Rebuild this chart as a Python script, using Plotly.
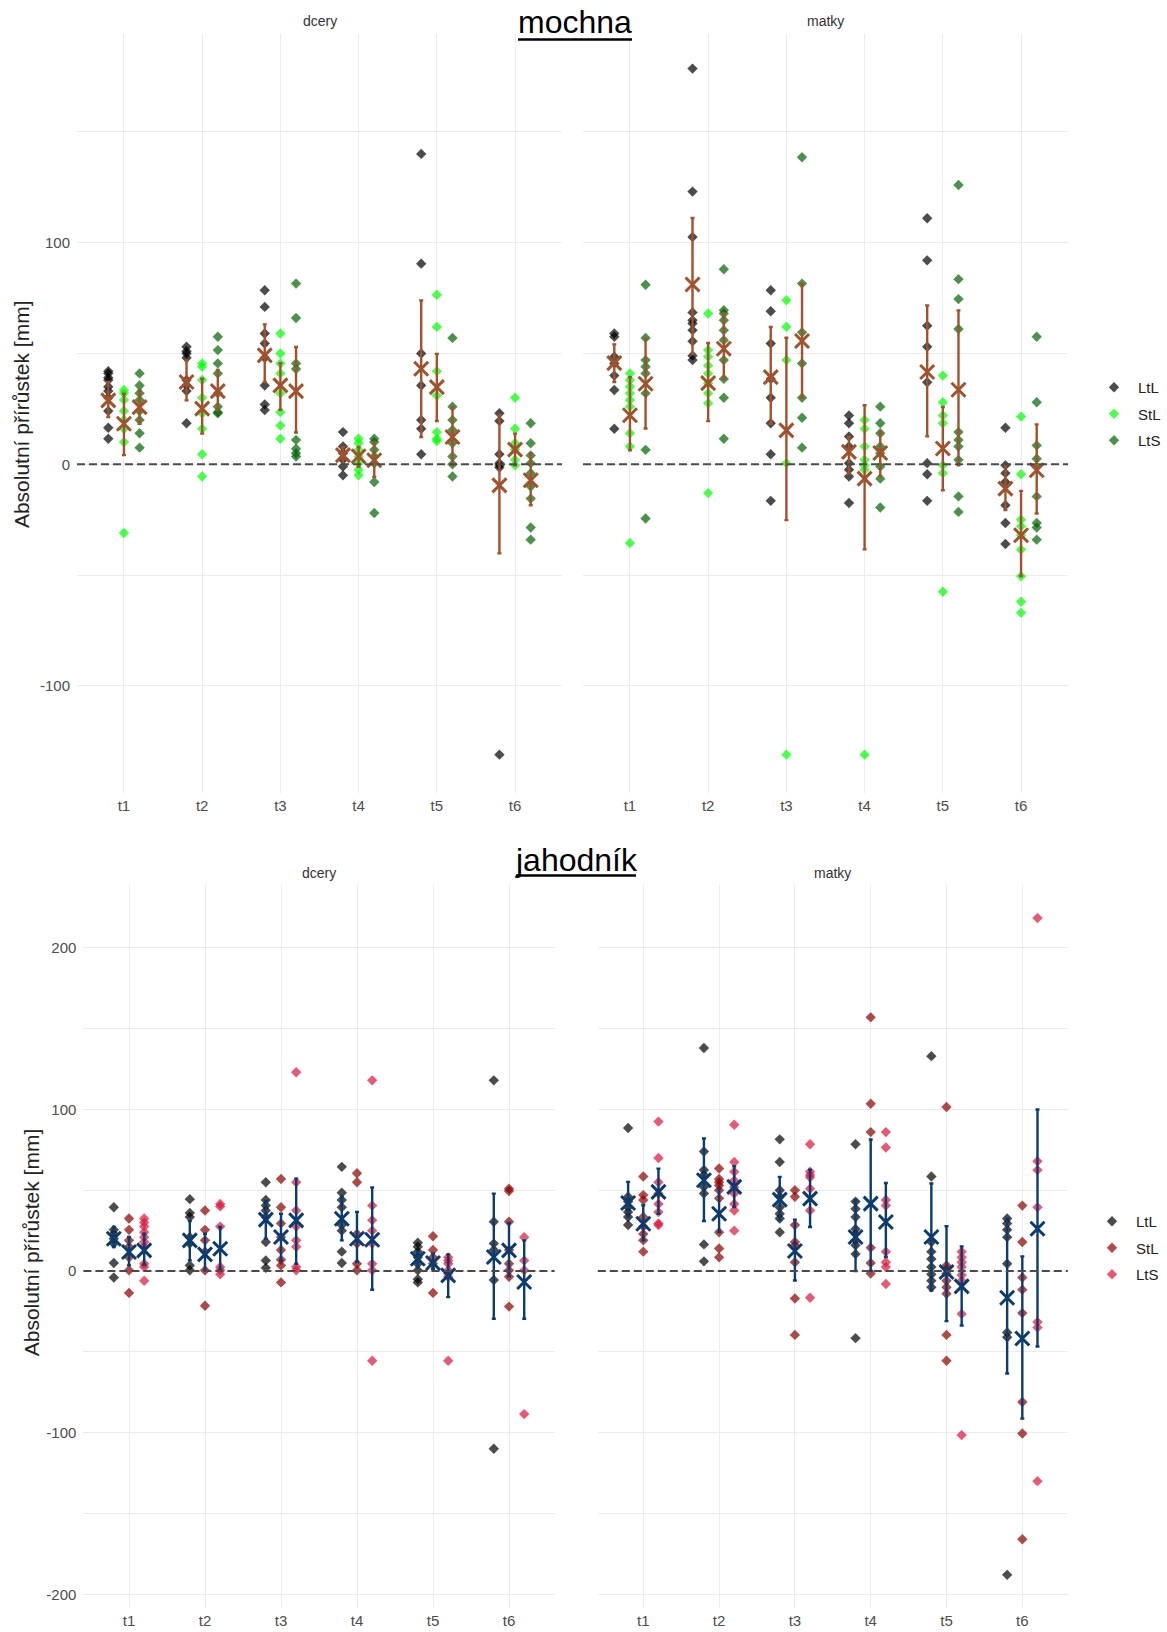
import plotly.graph_objects as go

W, H = 1167, 1632
FONT = "Liberation Sans, Arial, sans-serif"

TIMES = ["t1", "t2", "t3", "t4", "t5", "t6"]
GROUPS = ["LtL", "StL", "LtS"]

# ---------------- mochna : dcery ----------------
MD_PTS = {
    "LtL": [[42, 41, 39, 38, 35, 33, 30, 24, 16.5, 11.5], [53, 51, 50, 48, 38, 35.5, 33, 18.5],
            [78.5, 71, 59, 54.5, 48, 35.5, 27, 24.5], [14.5, 8, 5, 2, -1, -5],
            [140, 90.5, 50, 35.5, 20, 16, 4.5], [23, 19.5, 4.5, 0.5, -0.5, -1.5, -131]],
    "StL": [[33.5, 32, 29, 24, 20, 16, 10, -31], [45.5, 44, 38, 30, 23, 16, 4.5, -5.5],
            [59, 50, 45.5, 41, 32, 23.5, 17.5, 11.5], [11.5, 9.5, 6.5, 3.5, 0.5, -2.5, -5],
            [76.5, 62, 42, 31, 14.5, 11.5, 10.5], [30, 16, 9.5, 6.5, 2, -0.5]],
    "LtS": [[41, 35.5, 32, 29, 24, 20, 14, 7.5], [57.5, 51.5, 45.5, 41, 32, 26, 23.5, 23],
            [81.5, 66, 45.5, 43, 11, 7, 5, 3.5], [11.5, 10, 6.5, 3.5, 0.5, -8, -22],
            [57, 26, 20, 15.5, 9.5, 3.5, 0, -5.5], [18.5, 9.5, 4, 0.5, -4, -10, -15.5, -28.5, -34]],
}
MD_MEAN = {"LtL": [28.8, 37.1, 49.1, 4.1, 43.1, -9.5], "StL": [18.3, 25.1, 35.6, 3.6, 34.8, 6.6],
           "LtS": [25.8, 33.0, 33.0, 1.8, 12.3, -7.2]}
MD_LO = {"LtL": [21.3, 28.8, 37.1, 0.3, 12.3, -40.2], "StL": [4.1, 13.8, 24.6, -1.2, 19.5, -0.5],
         "LtS": [18.3, 24.3, 14.3, -5.7, -0.5, -18.5]}
MD_HI = {"LtL": [37.1, 46.8, 63.1, 7.8, 73.9, 22.1], "StL": [31.8, 38.6, 45.6, 7.8, 49.8, 13.8],
         "LtS": [33.3, 42.6, 52.9, 10.1, 25.8, 4.8]}

# ---------------- mochna : matky ----------------
MM_PTS = {
    "LtL": [[59, 57.5, 48.5, 45.5, 40, 33.5, 16], [178.5, 123, 102.5, 68.5, 65, 63.5, 60.5, 55.5, 49, 47],
            [78.5, 69, 54.5, 38.5, 30, 18.5, 4.5, -16.5], [22, 18.5, 12.5, 8, 0.5, -2.5, -5.5, -17.5],
            [111, 92, 62.5, 53, 37, 0.5, -4.5, -16.5], [16.5, -0.5, -4, -8, -18.5, -26.5, -36]],
    "StL": [[41, 38, 35, 32, 29, 26, 14, 8, -35.5], [68, 51.5, 48.5, 44.5, 41, 36.5, 32, 27.5, -13],
            [74, 62, 47, 0.5, -131], [20, 16, 8, 2, -0.5, -2.5, -131],
            [40, 28, 22, 18.5, -0.5, -4, -57.5], [21.5, -4.5, -25, -28, -32, -38.5, -50.5, -62, -67]],
    "LtS": [[81, 57, 47, 44, 41, 32, 6.5, -24.5], [88, 69.5, 68, 65, 60.5, 56, 47, 38.5, 30, 11.5],
            [138.5, 81.5, 59.5, 45.5, 30, 21, 7.5], [26, 18.5, 14, 8, 5, -1, -6.5, -19.5],
            [126, 83.5, 74.5, 61, 14.5, 11, 8, 2, -14.5, -21.5], [57.5, 28, 8.5, 2.5, -1, -14.5, -26.5, -28.5, -34]],
}
MM_MEAN = {"LtL": [45.6, 81.1, 39.3, 5.6, 41.6, -11.0], "StL": [22.1, 36.6, 15.3, -6.5, 7.1, -32.0],
           "LtS": [36.3, 52.1, 55.6, 5.1, 33.6, -2.7]}
MM_LO = {"LtL": [37.1, 49.8, 18.3, -4.2, 12.6, -20.7], "StL": [6.3, 19.5, -25.2, -38.4, -11.7, -50.4],
         "LtS": [16.1, 38.6, 30.0, -5.4, -0.5, -22.2]}
MM_HI = {"LtL": [54.1, 111.1, 61.9, 12.3, 71.6, -0.5], "StL": [39.3, 54.7, 57.1, 26.6, 25.8, -12.0],
         "LtS": [56.6, 68.2, 81.4, 14.6, 69.4, 18.0]}

# ---------------- jahodník : dcery ----------------
JD_PTS = {
    "LtL": [[39.5, 25.5, 23, 20, 17, 5, -4], [44.5, 36, 33.5, 21, 17, 3.5, 0.5],
            [55, 44, 40.5, 37.5, 33.5, 18, 6.5, 2], [64.5, 48.5, 44, 39.5, 28.5, 25, 12, 5],
            [17.5, 15, 12, 8.5, 4.5, 0.5, -5, -7], [118, 30.5, 17, 13, -5.5, -110]],
    "StL": [[32.5, 25.5, 19, 15, 8.5, 0.5, -13.5], [37.5, 25.5, 19, 12, 0.5, -21.5],
            [57, 39.5, 29.5, 21, 13, 7, 3.5, -7], [60.5, 55, 23, 17, 4.5, 0.5],
            [21.5, 13, 8.5, 4.5, -13.5], [51, 49.5, 30.5, 13, 4.5, 0.5, -3.5, -22]],
    "LtS": [[32.5, 30, 27.5, 24, 21, 18, 15, 4.5, 2.5, -6], [41.5, 40, 27.5, 2.5, 0.5, -2],
            [123, 55, 37.5, 27.5, 19, 15, 2.5, 0.5], [118, 40.5, 31.5, 25, 17, 4.5, 0.5, -55.5],
            [8.5, 6.5, 4.5, 0.5, -1.5, -3.5, -55.5], [21, 6.5, 0.5, -88.5]],
}
JD_MEAN = {"LtL": [20.0, 19.0, 31.8, 32.4, 7.6, 8.7], "StL": [11.8, 10.3, 21.1, 20.0, 5.0, 12.8],
           "LtS": [12.8, 13.8, 31.4, 19.4, -2.7, -6.8]}
JD_LO = {"LtL": [14.9, 6.6, 20.0, 19.0, 2.5, -29.5], "StL": [3.5, 0.4, 6.6, 5.6, 1.4, -3.3],
         "LtS": [4.1, 0.4, 4.5, -11.6, -16.1, -29.5]}
JD_HI = {"LtL": [27.3, 31.0, 43.4, 45.5, 11.8, 47.9], "StL": [21.1, 23.1, 35.5, 36.6, 10.7, 29.8],
         "LtS": [23.1, 27.3, 57.2, 51.7, 10.3, 19.0]}

# ---------------- jahodník : matky ----------------
JM_PTS = {
    "LtL": [[88.5, 46, 43, 39.5, 36.5, 33.5, 28.5], [138, 74, 62.5, 59.5, 52, 48, 16.5, 6],
            [81.5, 67.5, 50, 46, 39.5, 35.5, 32.5, 24], [78.5, 43, 38.5, 33.5, 26, 23, 19, 16, 10.5, -41.5],
            [133, 58.5, 18, 12, 7.5, 2.5, -2, -6, -10], [32.5, 29.5, 25.5, 21, 4.5, -38, -41, -188]],
    "StL": [[58.5, 47, 44, 33.5, 27.5, 23, 19, 12], [63.5, 57, 55, 53, 50, 45, 24, 14, 8.5],
            [50, 46, 28.5, 18, 16, 5.5, -17, -39.5], [157, 103.5, 86, 14.5, 5, -1.5],
            [101.5, 3.5, 1.5, -1.5, -6, -10, -14, -39.5, -55.5], [40.5, 18, -4, -11.5, -26, -81, -100.5, -166]],
    "LtS": [[92.5, 70, 55, 48, 41.5, 36.5, 29.5, 28.5], [90.5, 67.5, 61.5, 56, 52, 48, 41.5, 37.5, 25],
            [78.5, 61.5, 59.5, 58, 51, 37.5, -16.5], [86, 76.5, 44, 40.5, 12, 5.5, 2.5, -8],
            [12, 8.5, 5.5, 2.5, -2.5, -6, -26.5, -101.5], [218.5, 68, 62.5, 39.5, -31.5, -35, -130]],
}
JM_MEAN = {"LtL": [42.1, 56.2, 44.2, 21.1, 21.1, -16.5], "StL": [29.3, 35.5, 12.4, 41.7, -0.6, -41.7],
           "LtS": [49.0, 52.1, 44.8, 30.4, -9.5, 26.2]}
JM_LO = {"LtL": [33.5, 31.0, 31.4, 0.0, -12.0, -63.4], "StL": [19.0, 24.2, -5.8, 0.0, -31.0, -91.3],
         "LtS": [35.5, 39.7, 27.3, 8.7, -33.7, -46.7]}
JM_HI = {"LtL": [55.2, 82.0, 58.3, 43.8, 54.2, 32.4], "StL": [40.7, 51.0, 31.8, 81.4, 27.7, 9.1],
         "LtS": [63.4, 64.9, 62.8, 54.5, 15.3, 100.0]}

# ---------------- styles ----------------
TOP_COLORS = {"LtL": "#000000", "StL": "#00FF00", "LtS": "#006400"}
BOT_COLORS = {"LtL": "#000000", "StL": "#8B0000", "LtS": "#DC143C"}
TOP_SUM = "#A0522D"
BOT_SUM = "#0B3B6F"
DODGE = {"LtL": -0.2, "StL": 0.0, "LtS": 0.2}


def px_x(p):
    return p / W


def px_y(p):
    return 1 - p / H


fig = go.Figure()

panels = [
    ("x", "y", MD_PTS, MD_MEAN, MD_LO, MD_HI, TOP_COLORS, TOP_SUM, "legend", True),
    ("x2", "y2", MM_PTS, MM_MEAN, MM_LO, MM_HI, TOP_COLORS, TOP_SUM, "legend", False),
    ("x3", "y3", JD_PTS, JD_MEAN, JD_LO, JD_HI, BOT_COLORS, BOT_SUM, "legend2", True),
    ("x4", "y4", JM_PTS, JM_MEAN, JM_LO, JM_HI, BOT_COLORS, BOT_SUM, "legend2", False),
]

for xa, ya, pts, mean, lo, hi, cols, scol, leg, showleg in panels:
    for g in GROUPS:
        xs, ys = [], []
        for i, vals in enumerate(pts[g]):
            for v in vals:
                xs.append(i + 1 + DODGE[g])
                ys.append(v)
        fig.add_trace(go.Scatter(
            x=xs, y=ys, mode="markers", name=g, xaxis=xa, yaxis=ya,
            marker=dict(symbol="diamond", size=8, color=cols[g], opacity=0.7, line=dict(width=0)),
            showlegend=showleg, legend=leg, legendgroup=leg + g, hoverinfo="skip"))
    for g in GROUPS:
        xs = [i + 1 + DODGE[g] for i in range(len(TIMES))]
        m = mean[g]
        fig.add_trace(go.Scatter(
            x=xs, y=m, mode="markers", xaxis=xa, yaxis=ya, showlegend=False, hoverinfo="skip",
            marker=dict(symbol="x-thin", size=14, color=scol, line=dict(width=3, color=scol)),
            error_y=dict(type="data", symmetric=False,
                         array=[h - v for h, v in zip(hi[g], m)],
                         arrayminus=[v - l for v, l in zip(m, lo[g])],
                         color=scol, thickness=2.4, width=2)))

# ---------------- axes ----------------
GRID = "#EBEBEB"
xdoms = {"xaxis": (77, 562), "xaxis2": (583, 1068), "xaxis3": (83.4, 554.6), "xaxis4": (597.8, 1067.8)}
for name, (a, b) in xdoms.items():
    anchor = {"xaxis": "y", "xaxis2": "y2", "xaxis3": "y3", "xaxis4": "y4"}[name]
    fig.layout[name] = dict(domain=[px_x(a), px_x(b)], range=[0.4, 6.6], anchor=anchor,
                            tickvals=list(range(1, 7)), ticktext=TIMES, showgrid=True,
                            gridcolor=GRID, gridwidth=1, zeroline=False, showline=False, ticks="",
                            tickfont=dict(size=15, color="#4D4D4D", family=FONT),
                            ticklabelstandoff=2)

top_dom = [px_y(793), px_y(34)]
bot_dom = [px_y(1608), px_y(885)]
top_rng = [-148.3, 194.1]
bot_rng = [-208.5, 238.9]
yspec = {
    "yaxis": ("x", top_dom, top_rng, [-100, 0, 100], [-50, 50, 150], True),
    "yaxis2": ("x2", top_dom, top_rng, [-100, 0, 100], [-50, 50, 150], False),
    "yaxis3": ("x3", bot_dom, bot_rng, [-200, -100, 0, 100, 200], [-150, -50, 50, 150], True),
    "yaxis4": ("x4", bot_dom, bot_rng, [-200, -100, 0, 100, 200], [-150, -50, 50, 150], False),
}
for name, (anc, dom, rng, tv, mv, lab) in yspec.items():
    fig.layout[name] = dict(domain=dom, range=rng, anchor=anc, tickvals=tv,
                            ticktext=[str(v) for v in tv], showticklabels=lab,
                            showgrid=True, gridcolor=GRID, gridwidth=1, zeroline=False,
                            showline=False, ticks="",
                            minor=dict(tickvals=mv, showgrid=True, gridcolor=GRID, gridwidth=1),
                            tickfont=dict(size=15, color="#4D4D4D", family=FONT),
                            ticklabelstandoff=6)

# zero reference lines
for xa, ya in [("x", "y"), ("x2", "y2"), ("x3", "y3"), ("x4", "y4")]:
    fig.add_shape(type="line", xref=xa + " domain", yref=ya, x0=0, x1=1, y0=0, y1=0,
                  line=dict(color="#4A4A4A", width=2, dash="8px,4px"), layer="above")

# titles, strip labels, axis titles
anns = [
    dict(text="mochna", x=px_x(575), y=px_y(22.4), font=dict(size=32, color="#000000", family=FONT)),
    dict(text="jahodník", x=px_x(576), y=px_y(860), font=dict(size=32, color="#000000", family=FONT)),
    dict(text="dcery", x=px_x(319.5), y=px_y(21), font=dict(size=14, color="#333333", family=FONT)),
    dict(text="matky", x=px_x(825.5), y=px_y(21), font=dict(size=14, color="#333333", family=FONT)),
    dict(text="dcery", x=px_x(319), y=px_y(873), font=dict(size=14, color="#333333", family=FONT)),
    dict(text="matky", x=px_x(832.8), y=px_y(873), font=dict(size=14, color="#333333", family=FONT)),
    dict(text="Absolutní přírůstek [mm]", x=px_x(21.3), y=px_y(413.8), textangle=-90,
         font=dict(size=21, color="#222222", family=FONT)),
    dict(text="Absolutní přírůstek [mm]", x=px_x(31.8), y=px_y(1242.5), textangle=-90,
         font=dict(size=21, color="#222222", family=FONT)),
]
for a in anns:
    fig.add_annotation(xref="paper", yref="paper", showarrow=False, xanchor="center",
                       yanchor="middle", **a)

# title underlines
fig.add_shape(type="line", xref="paper", yref="paper", x0=px_x(518), x1=px_x(632),
              y0=px_y(39.5), y1=px_y(39.5), line=dict(color="#000000", width=2.5))
fig.add_shape(type="line", xref="paper", yref="paper", x0=px_x(516), x1=px_x(636),
              y0=px_y(875.5), y1=px_y(875.5), line=dict(color="#000000", width=2.5))

legend_common = dict(xanchor="left", yanchor="top", bgcolor="rgba(0,0,0,0)",
                     font=dict(size=15, color="#222222", family=FONT), tracegroupgap=4,
                     itemwidth=38)
fig.update_layout(
    width=W, height=H, margin=dict(l=0, r=0, t=0, b=0), autosize=False,
    paper_bgcolor="white", plot_bgcolor="white", showlegend=True,
    font=dict(family=FONT),
    legend=dict(x=px_x(1090), y=px_y(371), **legend_common),
    legend2=dict(x=px_x(1088), y=px_y(1205), **legend_common),
)

fig.write_html("out.html", config={"displayModeBar": False},
               post_script="document.body.style.margin='0';document.body.style.overflow='hidden';")
